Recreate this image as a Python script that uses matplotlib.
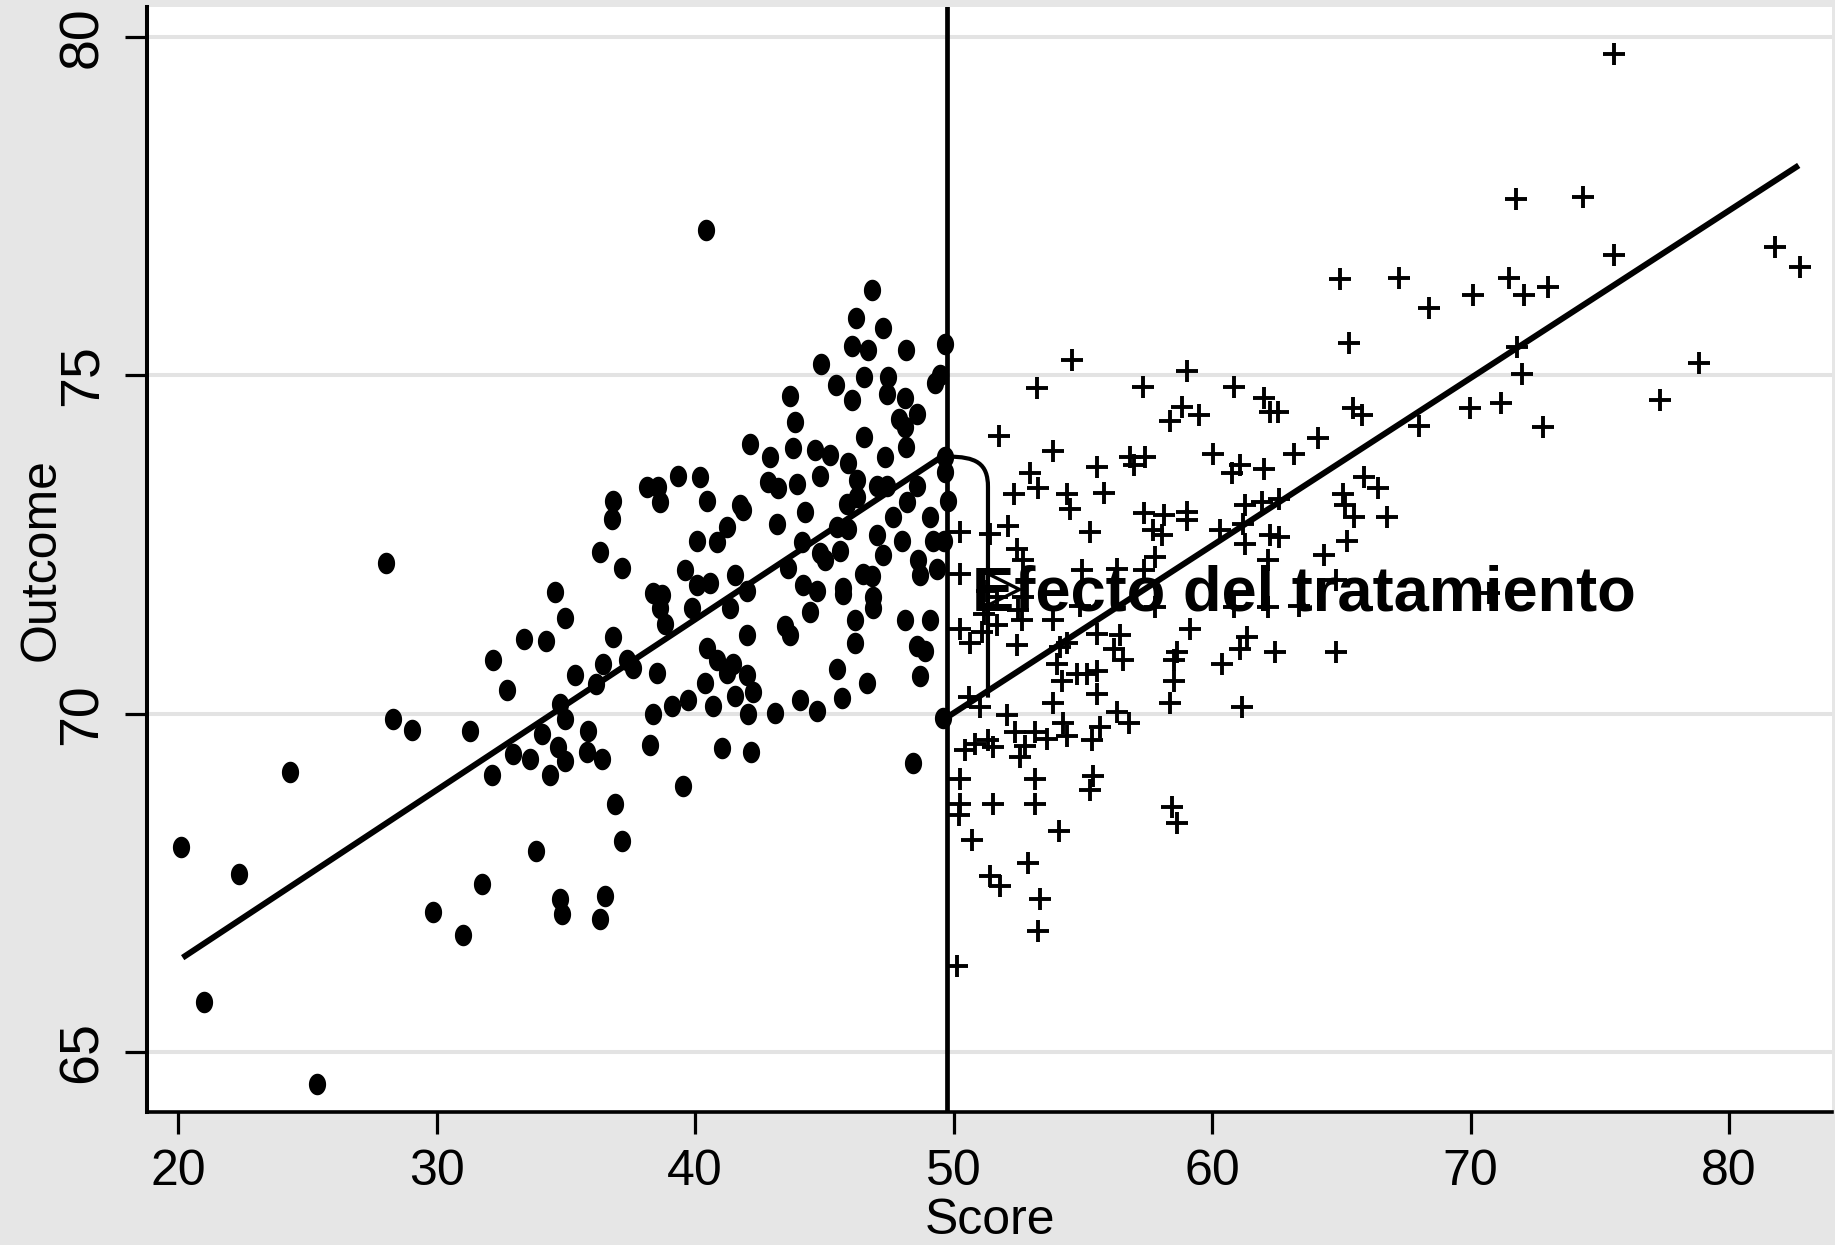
"""
Regression discontinuity plot: outcome vs score, with the treatment effect at the cutoff.
"""

import numpy as np
import matplotlib.pyplot as plt
from matplotlib.path import Path
import matplotlib.patches as mpatches

# Parameters.
BG = "#e6e6e6"
FONT = ["Liberation Sans", "DejaVu Sans"]
plt.rcParams["font.family"] = FONT

# Control group (score below the cutoff), drawn as dots.
ctrl_pts = np.array([
    (20.10, 68.04), (21.00, 65.74), (22.35, 67.63), (24.33, 69.14), (25.36, 64.53),
    (28.33, 69.93), (29.04, 69.76), (29.85, 67.07), (31.04, 66.73), (31.30, 69.75),
    (31.75, 67.49), (32.17, 70.79), (32.71, 70.35), (32.13, 69.10), (35.36, 70.57),
    (34.78, 70.15), (34.97, 69.93), (34.07, 69.71), (32.95, 69.41), (33.62, 69.34),
    (34.39, 69.10), (34.71, 69.51), (34.97, 69.31), (35.87, 69.75), (35.81, 69.43),
    (33.85, 67.98), (34.78, 67.27), (34.84, 67.05), (36.45, 70.74), (36.17, 70.44),
    (28.05, 72.23), (33.38, 71.11), (34.24, 71.08), (34.58, 71.80), (34.97, 71.41),
    (40.43, 77.14), (46.83, 76.26), (46.23, 75.85), (47.26, 75.70), (46.06, 75.43),
    (46.68, 75.37), (48.16, 75.37), (49.67, 75.47), (44.86, 75.17), (46.54, 74.97),
    (47.48, 74.97), (49.28, 74.88), (49.48, 75.00), (45.45, 74.85), (46.06, 74.63),
    (47.41, 74.73), (48.12, 74.66), (48.57, 74.43), (47.87, 74.36), (48.12, 74.24),
    (43.67, 74.70), (43.87, 74.31), (42.13, 73.99), (42.90, 73.79), (43.80, 73.92),
    (44.64, 73.89), (45.22, 73.82), (45.93, 73.70), (47.35, 73.79), (46.54, 74.09),
    (48.16, 73.94), (49.67, 73.79), (49.67, 73.57), (44.84, 73.52), (43.93, 73.39),
    (42.84, 73.42), (43.22, 73.33), (46.25, 73.45), (47.03, 73.37), (47.41, 73.37),
    (45.87, 73.10), (46.25, 73.20), (48.19, 73.13), (48.58, 73.37), (49.80, 73.15),
    (41.74, 73.08), (41.87, 73.01), (44.25, 72.98), (40.19, 73.50), (40.45, 73.15),
    (39.35, 73.52), (38.13, 73.35), (38.58, 73.35), (38.65, 73.13), (36.84, 73.15),
    (36.78, 72.88), (36.32, 72.39), (45.48, 72.76), (45.93, 72.73), (47.67, 72.91),
    (49.09, 72.91), (47.03, 72.64), (48.00, 72.56), (49.22, 72.56), (47.26, 72.34),
    (48.64, 72.27), (43.16, 72.81), (44.13, 72.54), (44.84, 72.37), (45.03, 72.27),
    (45.61, 72.41), (40.06, 72.56), (40.84, 72.54), (41.22, 72.76), (46.83, 72.04),
    (49.35, 72.14), (49.62, 72.56),
    (37.18, 72.16), (39.61, 72.12), (38.38, 71.79), (38.72, 71.75), (38.65, 71.57),
    (38.84, 71.33), (39.88, 71.57), (40.08, 71.90), (40.58, 71.94), (41.55, 72.05),
    (41.35, 71.57), (42.01, 71.82), (43.60, 72.15), (44.18, 71.90), (44.72, 71.82),
    (44.45, 71.50), (43.48, 71.30), (43.67, 71.16), (42.01, 71.16), (36.83, 71.14),
    (37.60, 70.68), (37.37, 70.79), (38.53, 70.61), (40.46, 70.98), (40.85, 70.79),
    (41.47, 70.74), (42.01, 70.57), (41.24, 70.60), (42.24, 70.32), (41.55, 70.27),
    (40.39, 70.45), (40.70, 70.12), (39.73, 70.20), (39.11, 70.12), (38.38, 70.00),
    (42.05, 70.00), (43.09, 70.02), (44.06, 70.20), (44.72, 70.05), (45.49, 70.67),
    (45.69, 70.24), (46.65, 70.46), (46.19, 71.38), (46.19, 71.04), (46.89, 71.72),
    (46.89, 71.57), (46.50, 72.07), (45.73, 71.86), (45.73, 71.77), (48.12, 71.38),
    (49.09, 71.38), (48.59, 71.00), (48.90, 70.93), (48.70, 70.56), (48.70, 72.05),
    (49.59, 69.94), (38.26, 69.54), (41.04, 69.50), (42.17, 69.43), (39.54, 68.94),
    (48.43, 69.27), (36.40, 69.34), (36.90, 68.67), (37.18, 68.13), (36.52, 67.31),
    (36.33, 66.97),
])

# Treatment group (score above the cutoff), drawn as plus marks.
treat_pts = np.array([
    (75.53, 79.75), (71.77, 77.61), (74.35, 77.64), (81.78, 76.90), (82.73, 76.60),
    (75.53, 76.77), (64.96, 76.42), (67.24, 76.43), (68.37, 75.99), (70.09, 76.18),
    (71.50, 76.43), (72.08, 76.18), (72.99, 76.31), (65.28, 75.48), (71.81, 75.42),
    (71.99, 75.02), (78.85, 75.18), (57.34, 74.83), (59.02, 75.06), (58.84, 74.53),
    (58.39, 74.32), (59.48, 74.41), (60.84, 74.83), (62.02, 74.66), (62.24, 74.46),
    (62.56, 74.46), (65.46, 74.52), (65.79, 74.42), (68.00, 74.25), (69.99, 74.52),
    (71.18, 74.59), (77.34, 74.64), (72.81, 74.24), (64.10, 74.07),
    (54.57, 75.23), (53.22, 74.82), (51.74, 74.11), (53.86, 73.88), (56.83, 73.80),
    (57.41, 73.80), (56.96, 73.67), (55.54, 73.64), (60.05, 73.84), (61.09, 73.67),
    (60.76, 73.56), (61.99, 73.61), (63.15, 73.84), (52.96, 73.56), (53.28, 73.33),
    (52.32, 73.25), (54.38, 73.25), (55.80, 73.26), (54.51, 73.03), (50.25, 72.69),
    (51.41, 72.66), (52.12, 72.77), (52.45, 72.44), (52.70, 72.27), (55.28, 72.69),
    (57.35, 72.96), (58.12, 72.93), (59.02, 72.98), (59.02, 72.86), (57.73, 72.71),
    (58.06, 72.64), (57.80, 72.32), (60.31, 72.71), (61.28, 73.08), (61.92, 73.13),
    (62.57, 73.18), (61.21, 72.81), (61.28, 72.51), (62.25, 72.64), (62.57, 72.61),
    (62.18, 72.27), (50.25, 72.07), (54.96, 72.12), (56.31, 72.14), (57.35, 72.12),
    (51.29, 71.82), (51.67, 71.72), (52.70, 71.72), (52.51, 71.53), (54.90, 71.60),
    (53.86, 71.38), (51.16, 71.48), (50.25, 71.26), (51.67, 71.31), (52.64, 71.38),
    (57.80, 71.58), (60.83, 71.58), (62.18, 71.58), (50.64, 71.04), (51.09, 71.21),
    (52.45, 71.01), (54.38, 71.04), (55.54, 71.18), (56.44, 71.16), (56.19, 70.96),
    (56.57, 70.79), (59.15, 71.26), (61.34, 71.13), (61.09, 70.96), (62.44, 70.91),
    (58.64, 70.91), (58.51, 70.79), (60.38, 70.74), (54.12, 70.99), (53.99, 70.74),
    (54.77, 70.59), (55.15, 70.59), (55.54, 70.64), (58.51, 70.49), (54.19, 70.49),
    (50.58, 70.25), (51.03, 70.10), (53.86, 70.16), (52.06, 69.98), (54.25, 69.86),
    (56.31, 70.03), (56.77, 69.86), (55.67, 69.80), (55.54, 70.30), (58.38, 70.16),
    (61.15, 70.10), (52.38, 69.73), (53.15, 69.73), (53.61, 69.63), (54.38, 69.68),
    (55.35, 69.62), (51.35, 69.61), (51.54, 69.51), (50.83, 69.56), (50.45, 69.46),
    (52.77, 69.53), (52.57, 69.36), (50.25, 69.04), (53.15, 69.04), (55.41, 69.09),
    (55.28, 68.87), (50.25, 68.67), (51.54, 68.67), (53.15, 68.67), (50.19, 68.50),
    (58.44, 68.62), (58.64, 68.39), (50.70, 68.14), (54.06, 68.27), (52.86, 67.80),
    (51.41, 67.61), (51.80, 67.46), (53.35, 67.27), (53.28, 66.79), (50.12, 66.28),
    (65.89, 73.50), (66.43, 73.33), (65.07, 73.25), (65.14, 73.09), (65.48, 72.91),
    (66.77, 72.91), (65.21, 72.56), (64.33, 72.34), (64.80, 71.97), (70.70, 71.78),
    (63.38, 71.60), (64.80, 70.91),
])

# Fitted lines on each side of the cutoff.
cutoff = 49.75
fit_left_x = [20.18, cutoff]
fit_left_y = [66.40, 73.85]
fit_right_x = [cutoff, 82.69]
fit_right_y = [69.95, 78.10]

# Treatment effect bracket and label.
bracket_x = 51.33
bracket_top = 73.80
bracket_bottom = 70.24
label_text = "Efecto del tratamiento"
label_x, label_y = 50.7, 71.53
arrow_x, arrow_y = 51.83, 71.84

x_ticks = [20, 30, 40, 50, 60, 70, 80]
y_ticks = [65, 70, 75, 80]

# Slightly tall ellipse used as the dot marker.
theta = np.linspace(0, 2 * np.pi, 60)
dot = Path(np.column_stack([0.8 * np.cos(theta), np.sin(theta)]), closed=True)

fig = plt.figure(figsize=(18.35, 12.45), dpi=100, facecolor=BG)
ax = fig.add_axes([0.0801, 0.1068, 0.9183, 0.8876])
ax.set_facecolor("white")

ax.plot(ctrl_pts[:, 0], ctrl_pts[:, 1], linestyle="none", marker=dot,
        ms=15.5, mfc="black", mec="black", mew=0, zorder=3)
ax.plot(treat_pts[:, 0], treat_pts[:, 1], linestyle="none", marker="+",
        ms=16, mec="black", mew=2.8, zorder=3)

ax.plot(fit_left_x, fit_left_y, color="black", lw=4.3, solid_capstyle="butt", zorder=4)
ax.plot(fit_right_x, fit_right_y, color="black", lw=4.3, solid_capstyle="butt", zorder=4)
ax.axvline(cutoff, color="black", lw=3.4, zorder=4)

# Bracket: rounded corner at the top, then straight down to the right-hand line.
verts = [(cutoff, bracket_top), (bracket_x - 0.45, bracket_top),
         (bracket_x, bracket_top - 0.1), (bracket_x, bracket_top - 0.45),
         (bracket_x, bracket_bottom)]
codes = [Path.MOVETO, Path.CURVE4, Path.CURVE4, Path.CURVE4, Path.LINETO]
ax.add_patch(mpatches.PathPatch(Path(verts, codes), fill=False, lw=3.0,
                                edgecolor="black", zorder=4))
ax.plot(arrow_x, arrow_y, marker=">", ms=26, mfc="none", mec="black", mew=2.4, zorder=4)

ax.text(label_x, label_y, label_text, fontsize=45.5, fontweight="bold",
        ha="left", va="baseline", zorder=5)

ax.set_xlim(18.80, 83.98)
ax.set_ylim(64.12, 80.44)
ax.set_xticks(x_ticks)
ax.set_yticks(y_ticks)
ax.yaxis.grid(True, color="#e3e3e3", lw=2.9)
ax.set_axisbelow(True)

for side in ["top", "right"]:
    ax.spines[side].set_visible(False)
ax.spines["left"].set_linewidth(2.9)
ax.spines["bottom"].set_linewidth(2.6)

ax.tick_params(axis="both", length=15.5, width=2.3, color="black")
ax.tick_params(axis="x", labelsize=36, pad=11)
ax.tick_params(axis="y", labelsize=40, pad=12)
for lab in ax.get_yticklabels():
    lab.set_rotation(90)
    lab.set_va("center")

ax.set_xlabel("Score", fontsize=36)
ax.xaxis.set_label_coords(0.5, -0.078)
ax.set_ylabel("Outcome", fontsize=36)
ax.yaxis.set_label_coords(-0.0487, 0.5)

fig.savefig("out.png", dpi=100, facecolor=BG)
